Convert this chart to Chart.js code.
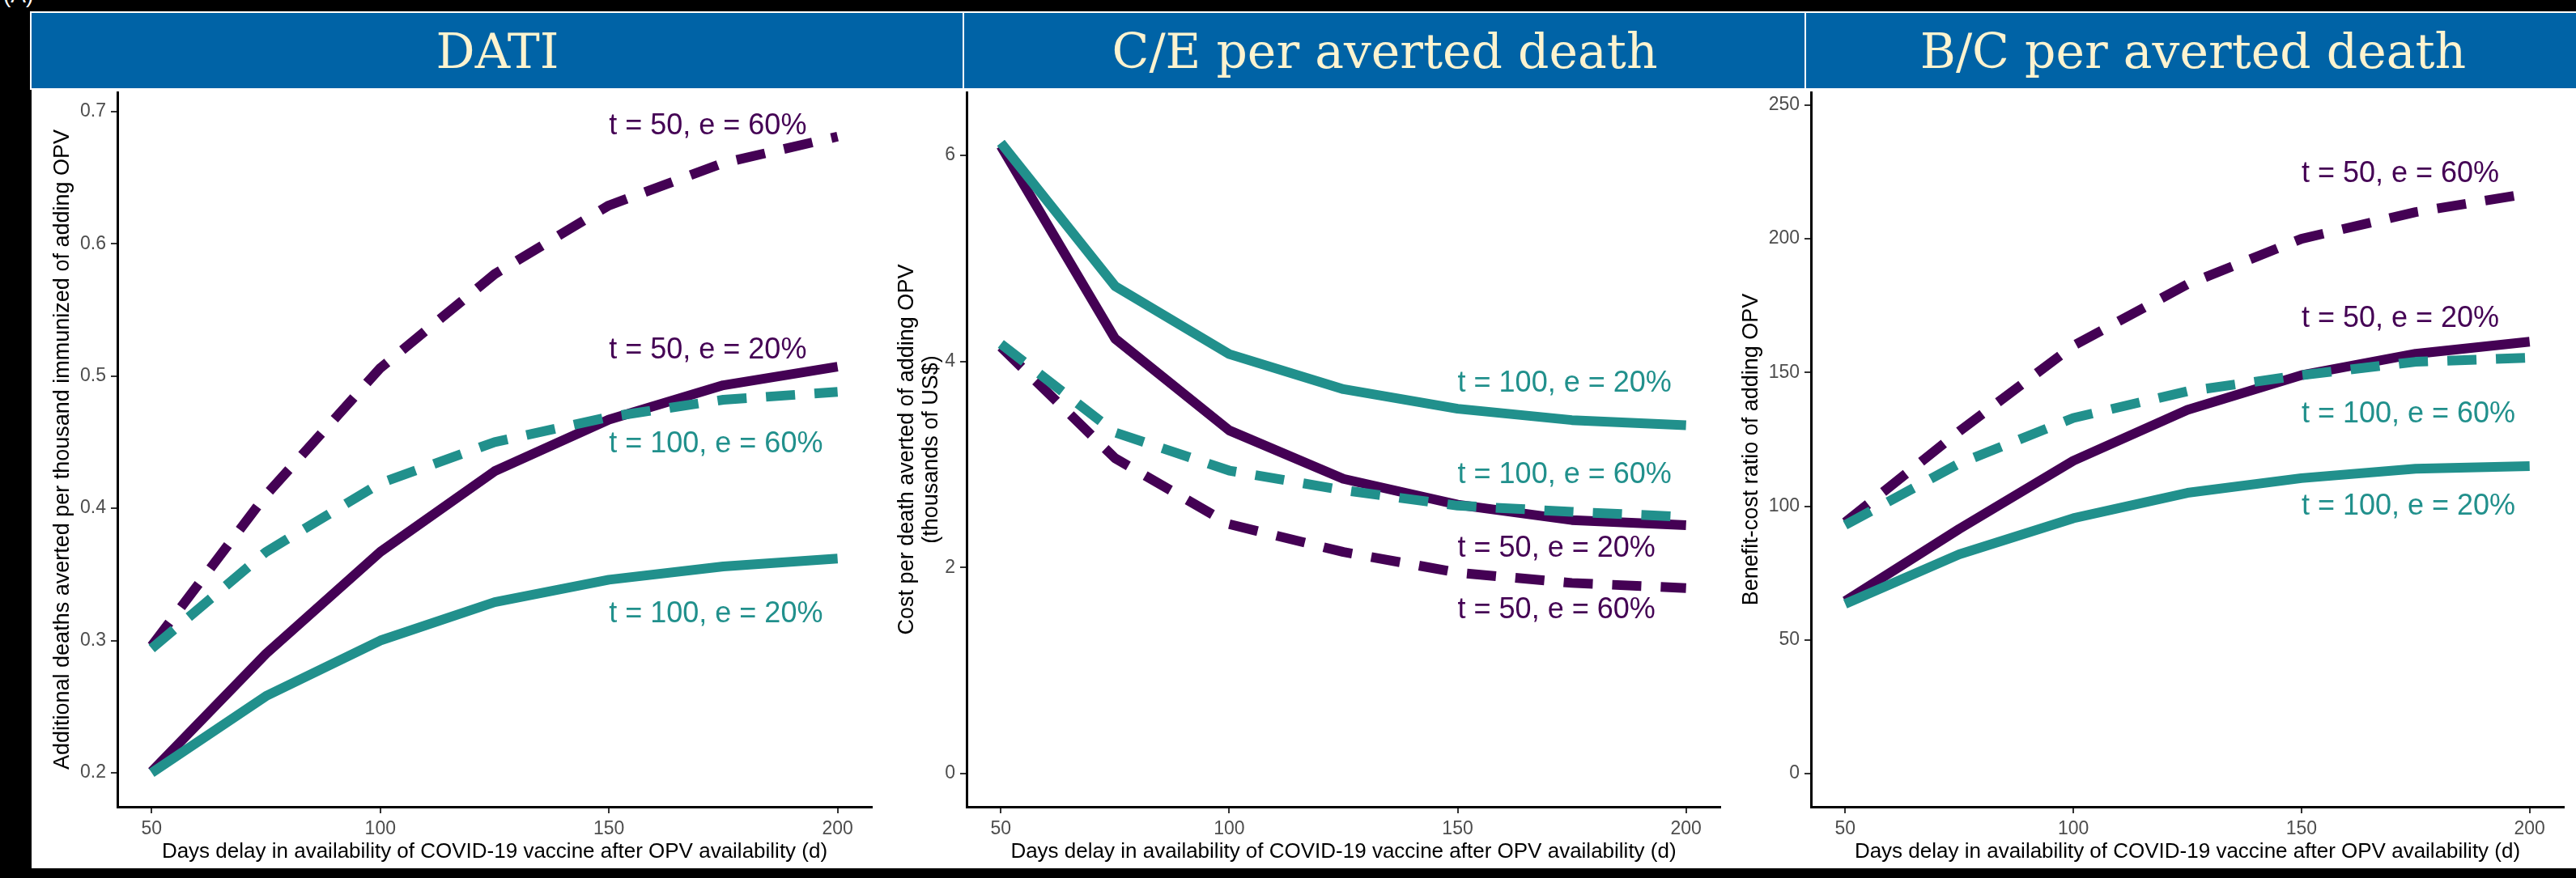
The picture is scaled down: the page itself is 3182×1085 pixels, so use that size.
<!DOCTYPE html>
<html>
<head>
<meta charset="utf-8">
<script src="https://cdn.jsdelivr.net/npm/chart.js@4"></script>
<style>
  body { margin: 0; background: #000; width: 3182px; height: 1085px; overflow: hidden; position: relative; }
  .strip {
    position: absolute; top: 14px; height: 97px; box-sizing: border-box;
    background: #0063a6; border: 2px solid #fff;
    color: #fdf3cf; font-family: "DejaVu Serif", serif; font-size: 60px;
    display: flex; align-items: center; justify-content: center;
  }
  .panel-bg { position: absolute; left: 39px; top: 111px; width: 3143px; height: 962px; background: #fff; }
  canvas { position: absolute; top: 112px; }
  .tag { position: absolute; left: 4px; top: -22px; color: #fff; font: 28px "Liberation Sans", Arial, sans-serif; }
</style>
</head>
<body>
<div class="tag">(A)</div>
<div class="panel-bg"></div>
<div class="strip" style="left:37px; width:1155px;">DATI</div>
<div class="strip" style="left:1189px; width:1043px;">C/E per averted death</div>
<div class="strip" style="left:2229px; width:960px;">B/C per averted death</div>
<canvas id="dati" width="1046" height="961" style="left:39px"></canvas>
<canvas id="ce" width="1050" height="961" style="left:1085px"></canvas>
<canvas id="bc" width="1047" height="961" style="left:2135px"></canvas>
<script>
// x values (days of delay) and axis ticks
const days = [50, 75, 100, 125, 150, 175, 200];
const xTicks = [50, 100, 150, 200];
const seriesNames = ['t = 50, e = 60%', 't = 50, e = 20%', 't = 100, e = 60%', 't = 100, e = 20%'];

// DATI panel
const datiT50e60 = [0.296, 0.41, 0.506, 0.577, 0.629, 0.661, 0.681];
const datiT50e20 = [0.201, 0.29, 0.367, 0.428, 0.467, 0.493, 0.507];
const datiT100e60 = [0.294, 0.367, 0.419, 0.45, 0.469, 0.482, 0.488];
const datiT100e20 = [0.2, 0.258, 0.3, 0.329, 0.346, 0.356, 0.362];
const datiTicks = [0.2, 0.3, 0.4, 0.5, 0.6, 0.7];
const datiTickLabels = ['0.2', '0.3', '0.4', '0.5', '0.6', '0.7'];
const datiLabelY = [0.689, 0.519, 0.4485, 0.32];

// C/E panel (thousands of US$)
const ceT50e60 = [4.14, 3.06, 2.42, 2.15, 1.95, 1.85, 1.8];
const ceT50e20 = [6.09, 4.22, 3.33, 2.86, 2.61, 2.46, 2.41];
const ceT100e60 = [4.17, 3.31, 2.94, 2.75, 2.6, 2.54, 2.49];
const ceT100e20 = [6.12, 4.73, 4.07, 3.73, 3.54, 3.43, 3.38];
const ceTicks = [0, 2, 4, 6];
const ceTickLabels = ['0', '2', '4', '6'];
const ceLabelY = [1.586, 2.183, 2.895, 3.786];

// B/C panel
const bcT50e60 = [94, 128, 160, 183, 200, 210, 217];
const bcT50e20 = [64.5, 91.5, 117, 136, 149, 157, 161.5];
const bcT100e60 = [93, 116, 133, 143, 149, 154, 155.5];
const bcT100e20 = [63.5, 82, 95.5, 105, 110.5, 114, 115];
const bcTicks = [0, 50, 100, 150, 200, 250];
const bcTickLabels = ['0', '50', '100', '150', '200', '250'];
const bcLabelY = [224.2, 170.1, 134.4, 99.7];

const labelX = 150;
const purple = '#440154';
const teal = '#21908c';
const sans = '"Liberation Sans", Arial, sans-serif';
const xTitle = 'Days delay in availability of COVID-19 vaccine after OPV availability (d)';

// text labels next to the lines, placed in data units
const lineLabels = {
    id: 'lineLabels',
    afterDatasetsDraw(chart, args, opts) {
        const ctx = chart.ctx;
        const xs = chart.scales.x, ys = chart.scales.y;
        ctx.save();
        ctx.font = '36px ' + sans;
        ctx.textAlign = 'left';
        ctx.textBaseline = 'middle';
        opts.ys.forEach((v, i) => {
            ctx.fillStyle = i < 2 ? purple : teal;
            ctx.fillText(seriesNames[i], xs.getPixelForValue(labelX), ys.getPixelForValue(v));
        });
        ctx.restore();
    }
};

function makePanel(id, p) {
    const pts = vals => days.map((d, i) => ({ x: d, y: vals[i] }));
    // teal first so it is painted on top
    const datasets = [
        { data: pts(p.values[3]), borderColor: teal, borderDash: [] },
        { data: pts(p.values[2]), borderColor: teal, borderDash: [36, 24] },
        { data: pts(p.values[1]), borderColor: purple, borderDash: [] },
        { data: pts(p.values[0]), borderColor: purple, borderDash: [36, 24] }
    ].map(d => Object.assign(d, {
        borderWidth: 12, pointRadius: 0, tension: 0,
        borderCapStyle: 'butt', borderJoinStyle: 'round', fill: false
    }));

    return new Chart(document.getElementById(id), {
        type: 'line',
        data: { datasets },
        plugins: [lineLabels],
        options: {
            responsive: false,
            animation: false,
            layout: { padding: { top: 2, right: p.rightPad, left: 0, bottom: 0 } },
            plugins: { legend: { display: false }, tooltip: { enabled: false }, lineLabels: { ys: p.labelY } },
            scales: {
                x: {
                    type: 'linear', min: 42.5, max: 207.5,
                    afterBuildTicks: s => { s.ticks = xTicks.map(v => ({ value: v })); },
                    afterFit: s => { s.height = 76; s.paddingLeft = 0; s.paddingRight = 0; },
                    grid: { drawOnChartArea: false, drawTicks: true, tickLength: 8, color: '#333', lineWidth: 2 },
                    border: { display: true, color: '#000', width: 3 },
                    ticks: { autoSkip: false, maxRotation: 0, padding: 6, color: '#4d4d4d', font: { family: sans, size: 23 } },
                    title: { display: true, text: xTitle, color: '#000', font: { family: sans, size: 26 }, padding: { top: 0, bottom: 5 } }
                },
                y: {
                    type: 'linear', min: p.yMin, max: p.yMax,
                    afterBuildTicks: s => { s.ticks = p.yTicks.map(v => ({ value: v })); },
                    afterFit: s => { s.width = p.axisW; s.paddingTop = 0; s.paddingBottom = 0; },
                    grid: { drawOnChartArea: false, drawTicks: true, tickLength: 8, color: '#333', lineWidth: 2 },
                    border: { display: true, color: '#000', width: 3 },
                    ticks: {
                        autoSkip: false, padding: 6, color: '#4d4d4d', font: { family: sans, size: 23 },
                        callback: (v, i) => p.yTickLabels[i]
                    },
                    title: {
                        display: true, text: p.yTitle, color: '#000',
                        font: { family: sans, size: 27, lineHeight: 1.1 }, padding: { top: p.titlePad, bottom: 0 }
                    }
                }
            }
        }
    });
}

makePanel('dati', {
    values: [datiT50e60, datiT50e20, datiT100e60, datiT100e20],
    yMin: 0.1743, yMax: 0.7145, yTicks: datiTicks, yTickLabels: datiTickLabels, labelY: datiLabelY,
    yTitle: 'Additional deaths averted per thousand immunized of adding OPV',
    axisW: 106, titlePad: 24, rightPad: 8
});

makePanel('ce', {
    values: [ceT50e60, ceT50e20, ceT100e60, ceT100e20],
    yMin: -0.322, yMax: 6.611, yTicks: ceTicks, yTickLabels: ceTickLabels, labelY: ceLabelY,
    yTitle: ['Cost per death averted of adding OPV', '(thousands of US$)'],
    axisW: 109, titlePad: 21, rightPad: 10
});

makePanel('bc', {
    values: [bcT50e60, bcT50e20, bcT100e60, bcT100e20],
    yMin: -12.4, yMax: 254.8, yTicks: bcTicks, yTickLabels: bcTickLabels, labelY: bcLabelY,
    yTitle: 'Benefit-cost ratio of adding OPV',
    axisW: 102, titlePad: 14, rightPad: 15
});
</script>
</body>
</html>
